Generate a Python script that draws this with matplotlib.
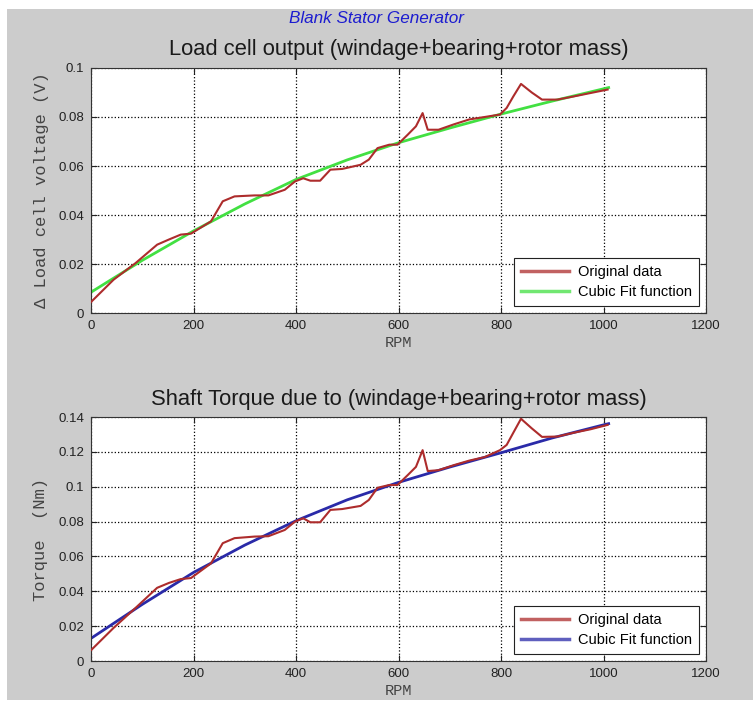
import matplotlib
matplotlib.use('Agg')
import matplotlib.pyplot as plt
from matplotlib.patches import Rectangle

# measured load cell / torque readings
rpm = [0, 44, 87, 129, 152, 175, 195, 234, 257, 280, 319, 346, 378, 398,
       414, 428, 447, 467, 490, 526, 542, 559, 582, 598, 618, 634, 647,
       657, 678, 708, 738, 768, 798, 811, 824, 839, 860, 880, 910, 942,
       975, 1008]
volt = [0.0045, 0.0136, 0.0204, 0.0279, 0.0300, 0.0320, 0.0324, 0.0374,
        0.0456, 0.0476, 0.0480, 0.0480, 0.0503, 0.0537, 0.0550, 0.0540,
        0.0540, 0.0585, 0.0588, 0.0605, 0.0626, 0.0673, 0.0687, 0.0687,
        0.0728, 0.0762, 0.0816, 0.0748, 0.0748, 0.0770, 0.0790, 0.0800,
        0.0810, 0.0837, 0.0884, 0.0935, 0.0900, 0.0871, 0.0871, 0.0884,
        0.0898, 0.0912]
torque = [0.0062, 0.0190, 0.0305, 0.0420, 0.0448, 0.0470, 0.0476, 0.0560,
          0.0676, 0.0705, 0.0714, 0.0716, 0.0752, 0.0800, 0.0819, 0.0796,
          0.0796, 0.0867, 0.0872, 0.0890, 0.0924, 0.0994, 0.1010, 0.1010,
          0.1067, 0.1114, 0.1210, 0.1090, 0.1095, 0.1124, 0.1150, 0.1170,
          0.1210, 0.1240, 0.1310, 0.1390, 0.1335, 0.1286, 0.1288, 0.1310,
          0.1330, 0.1355]

# cubic fit curves
fit_rpm = [0, 100, 200, 300, 400, 500, 600, 700, 800, 900, 1000, 1010]
volt_fit = [0.0085, 0.0215, 0.0335, 0.0445, 0.0545, 0.0625, 0.0695,
            0.0755, 0.0812, 0.0865, 0.0915, 0.0920]
torque_fit = [0.0130, 0.0325, 0.0508, 0.0665, 0.0805, 0.0925, 0.1025,
              0.1113, 0.1195, 0.1280, 0.1355, 0.1362]

x_ticks = [0, 200, 400, 600, 800, 1000, 1200]
volt_ticks = [0, 0.02, 0.04, 0.06, 0.08, 0.1]
torque_ticks = [0, 0.02, 0.04, 0.06, 0.08, 0.1, 0.12, 0.14]

RED = '#ad2c2c'
GREEN = '#42e042'
BLUE = '#2a2aa8'
BG = '#cccccc'

fig = plt.figure(figsize=(7.53, 7.09), dpi=100)
fig.patch.set_facecolor('white')
fig.patches.append(Rectangle((7 / 753, 9 / 709), 1, 691 / 709,
                             transform=fig.transFigure, facecolor=BG,
                             edgecolor='none', zorder=-10))

fig.text(0.4995, 0.9746, 'Blank Stator Generator', ha='center', va='center',
         fontsize=12.3, style='italic', color='#1c1cd0',
         family='Liberation Sans')


def style_axis(ax, yticks, ylabel, title):
    ax.set_facecolor('white')
    ax.set_xlim(0, 1200)
    ax.set_ylim(yticks[0], yticks[-1])
    ax.set_xticks(x_ticks)
    ax.set_yticks(yticks)
    ax.set_yticklabels(['0' if v == 0 else f'{v:g}' for v in yticks])
    ax.grid(True, linestyle=':', color='black', linewidth=0.9)
    ax.tick_params(direction='in', top=True, right=True, length=4,
                   labelsize=9.5, colors='#222222', pad=5)
    for lab in ax.get_xticklabels() + ax.get_yticklabels():
        lab.set_family('Liberation Sans')
    for s in ax.spines.values():
        s.set_color('#333333')
        s.set_linewidth(0.8)
    ax.set_xlabel('RPM', family='Liberation Mono', fontsize=11,
                  color='#444444', labelpad=3)
    ax.set_ylabel(ylabel, family='Liberation Mono', fontsize=12.3,
                  color='#444444', labelpad=7)
    ax.set_title(title, family='Liberation Sans', fontsize=15.8,
                 color='#1a1a1a', pad=9)


ax1 = fig.add_axes([0.1209, 0.5585, 0.8167, 0.3456])
ax1.plot(rpm, volt, color=RED, lw=1.5, label='Original data', zorder=3)
ax1.plot(fit_rpm, volt_fit, color=GREEN, lw=2, label='Cubic Fit function',
         zorder=2)
style_axis(ax1, volt_ticks, '\u0394 Load cell voltage (V)',
           'Load cell output (windage+bearing+rotor mass)')

ax2 = fig.add_axes([0.1209, 0.0677, 0.8167, 0.3441])
ax2.plot(rpm, torque, color=RED, lw=1.5, label='Original data', zorder=3)
ax2.plot(fit_rpm, torque_fit, color=BLUE, lw=2, label='Cubic Fit function',
         zorder=2)
style_axis(ax2, torque_ticks, 'Torque  (Nm)',
           'Shaft Torque due to (windage+bearing+rotor mass)')

for ax in (ax1, ax2):
    leg = ax.legend(loc='lower right', fancybox=False, framealpha=1,
                    edgecolor='#222222', borderaxespad=0.45,
                    prop={'family': 'Liberation Sans', 'size': 10.5},
                    handlelength=3.3, handletextpad=0.6, borderpad=0.5,
                    labelspacing=0.4)
    leg.get_frame().set_linewidth(0.8)
    for line in leg.get_lines():
        line.set_linewidth(2.5)
        line.set_alpha(0.75)

fig.savefig('out.png', dpi=100, facecolor='white')
